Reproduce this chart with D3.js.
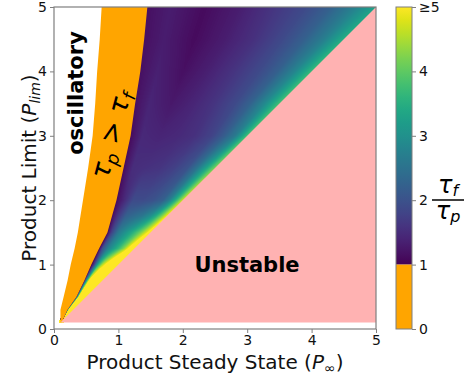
<!DOCTYPE html>
<html>
<head>
<meta charset="utf-8">
<script src="https://cdn.jsdelivr.net/npm/d3@7"></script>
<style>
  body { margin: 0; background: #fff; }
  svg { display: block; font-family: "DejaVu Sans", sans-serif; }
</style>
</head>
<body>
<script>
const rowLim   = [0.1, 0.3, 0.5, 0.75, 1, 1.25, 1.5, 1.75, 2, 2.5, 3, 3.5, 4, 4.5, 5]
// P_inf where the white (oscillatory) zone ends on each row
const oscEdge  = [0.1, 0.1, 0.15, 0.21, 0.26, 0.32, 0.37, 0.41, 0.45, 0.53, 0.6, 0.64, 0.67, 0.71, 0.74]
// P_inf where the orange (tau_p > tau_f) zone ends on each row
const slowEdge = [0.12, 0.21, 0.35, 0.47, 0.58, 0.7, 0.83, 0.9, 0.97, 1.08, 1.19, 1.26, 1.34, 1.4, 1.45]
// position across the coloured band: 0 = orange edge, 1 = diagonal
const tStops   = [0, 0.1, 0.25, 0.4, 0.55, 0.7, 0.8, 0.9, 1]
// tau_f / tau_p read along each row at tStops
const ratio = [
  [1.0, 4.0, 6.0, 6.0, 6.0, 6.0, 6.0, 6.0, 6.0],
  [1.0, 4.0, 6.0, 6.0, 6.0, 6.0, 6.0, 6.0, 6.0],
  [1.0, 3.5, 5.5, 6.0, 6.0, 6.0, 6.0, 6.0, 6.0],
  [1.0, 3.0, 5.0, 6.0, 6.0, 6.0, 6.0, 6.0, 6.0],
  [1.0, 1.7, 3.5, 4.5, 5.2, 6.0, 6.0, 6.0, 6.0],
  [1.0, 2.0, 2.7, 3.2, 3.7, 4.3, 4.9, 5.5, 6.0],
  [1.05, 1.8, 2.6, 3.0, 3.4, 3.9, 4.3, 4.8, 5.4],
  [1.1, 1.6, 2.2, 2.4, 2.6, 3.0, 3.5, 4.2, 5.0],
  [1.1, 1.4, 1.9, 1.9, 2.0, 2.2, 2.7, 3.6, 4.7],
  [1.1, 1.5, 1.55, 1.6, 1.75, 2.0, 2.5, 3.3, 4.2],
  [1.1, 1.45, 1.4, 1.45, 1.55, 1.8, 2.15, 2.65, 3.8],
  [1.15, 1.4, 1.25, 1.4, 1.6, 1.9, 2.25, 2.9, 3.8],
  [1.15, 1.35, 1.15, 1.35, 1.6, 1.9, 2.2, 2.8, 3.7],
  [1.15, 1.3, 1.1, 1.3, 1.55, 1.9, 2.2, 2.7, 3.5],
  [1.15, 1.3, 1.1, 1.3, 1.6, 1.9, 2.2, 2.7, 3.3]
]
const gridMin = 0.1, gridMax = 5
const axisTicks = [0, 1, 2, 3, 4, 5]
const cbarTicks = [0, 1, 2, 3, 4, 5]
const cbarLabels = ["0", "1", "2", "3", "4", "≥5"]

const orange = "#ffa500"
const pink = "#ffb2b2"
const spine = "#7f7f7f"

let dimensions = {
  width: 464,
  height: 376,
  margin: { top: 7, right: 88, bottom: 47, left: 54 },
}
dimensions.boundedWidth = dimensions.width - dimensions.margin.left - dimensions.margin.right
dimensions.boundedHeight = dimensions.height - dimensions.margin.top - dimensions.margin.bottom

const wrapper = d3.select("body").append("svg")
  .attr("width", dimensions.width)
  .attr("height", dimensions.height)

const xScale = d3.scaleLinear().domain([0, 5]).range([dimensions.margin.left, dimensions.margin.left + dimensions.boundedWidth])
const yScale = d3.scaleLinear().domain([0, 5]).range([dimensions.margin.top + dimensions.boundedHeight, dimensions.margin.top])
const color = d3.scaleSequential(d3.interpolateViridis).domain([1, 5]).clamp(true)

// lookups along P_lim and across the band
const rowAt = d3.scaleLinear().domain(rowLim).range(d3.range(rowLim.length)).clamp(true)
const slowAt = d3.scaleLinear().domain(rowLim).range(slowEdge).clamp(true)
const colAt = d3.scaleLinear().domain(tStops).range(d3.range(tStops.length)).clamp(true)

function ratioAt(p, t) {
  const r = rowAt(p), j = colAt(t)
  const i0 = Math.min(Math.floor(r), rowLim.length - 2), fr = r - i0
  const j0 = Math.min(Math.floor(j), tStops.length - 2), fj = j - j0
  const a = ratio[i0][j0] * (1 - fj) + ratio[i0][j0 + 1] * fj
  const b = ratio[i0 + 1][j0] * (1 - fj) + ratio[i0 + 1][j0 + 1] * fj
  return a * (1 - fr) + b * fr
}

// coloured band painted into a canvas, then placed in the svg
const cw = Math.round(xScale(5) - xScale(0)), ch = Math.round(yScale(0) - yScale(5))
const canvas = document.createElement("canvas")
canvas.width = cw
canvas.height = ch
const ctx = canvas.getContext("2d")
const img = ctx.createImageData(cw, ch)
const lut = d3.range(256).map(i => d3.rgb(color(1 + 4 * i / 255)))

for (let py = 0; py < ch; py++) {
  const pl = yScale.invert(yScale(5) + py + 0.5)
  if (pl < gridMin || pl > gridMax) continue
  const xs = slowAt(pl)
  for (let px = 0; px < cw; px++) {
    const pi = xScale.invert(xScale(0) + px + 0.5)
    if (pi < xs - 0.05 || pi > pl + 0.05) continue
    let t = pl - xs > 0 ? (pi - xs) / (pl - xs) : 1
    t = Math.max(0, Math.min(1, t))
    const v = Math.max(1, Math.min(5, ratioAt(pl, t)))
    const c = lut[Math.round((v - 1) / 4 * 255)]
    const k = (py * cw + px) * 4
    img.data[k] = c.r
    img.data[k + 1] = c.g
    img.data[k + 2] = c.b
    img.data[k + 3] = 255
  }
}
ctx.putImageData(img, 0, 0)

wrapper.append("image")
  .attr("href", canvas.toDataURL())
  .attr("x", xScale(0))
  .attr("y", yScale(5))
  .attr("width", cw)
  .attr("height", ch)
  .attr("preserveAspectRatio", "none")

// orange zone between the two edges
const rows = rowLim.map((p, i) => ({ p: p, osc: oscEdge[i], slow: slowEdge[i] }))
wrapper.append("path")
  .datum(rows)
  .attr("d", d3.area().y(d => yScale(d.p)).x0(d => xScale(d.osc)).x1(d => xScale(d.slow)))
  .attr("fill", orange)

// unstable zone below the diagonal
const unstable = [[gridMin, gridMin], [gridMax, gridMin], [gridMax, gridMax]]
wrapper.append("path")
  .attr("d", d3.line().x(d => xScale(d[0])).y(d => yScale(d[1]))(unstable) + "Z")
  .attr("fill", pink)

// frame
wrapper.append("rect")
  .attr("x", xScale(0)).attr("y", yScale(5))
  .attr("width", xScale(5) - xScale(0)).attr("height", yScale(0) - yScale(5))
  .attr("fill", "none").attr("stroke", spine).attr("stroke-width", 1.2)

const xAxis = d3.axisBottom(xScale).tickValues(axisTicks).tickSize(4).tickPadding(2).tickFormat(d3.format("d"))
const yAxis = d3.axisLeft(yScale).tickValues(axisTicks).tickSize(4).tickPadding(3).tickFormat(d3.format("d"))

const gx = wrapper.append("g").attr("transform", `translate(0,${yScale(0)})`).call(xAxis)
const gy = wrapper.append("g").attr("transform", `translate(${xScale(0)},0)`).call(yAxis)
for (const g of [gx, gy]) {
  g.select(".domain").remove()
  g.selectAll(".tick line").attr("stroke", spine).attr("stroke-width", 1)
  g.selectAll(".tick text").attr("font-size", 14).attr("font-family", "DejaVu Sans").attr("fill", "#111")
}

// axis labels
const xl = wrapper.append("text")
  .attr("x", (xScale(0) + xScale(5)) / 2).attr("y", 369)
  .attr("text-anchor", "middle").attr("font-size", 20).attr("fill", "#111")
xl.append("tspan").text("Product Steady State (")
xl.append("tspan").attr("font-style", "italic").text("P")
xl.append("tspan").attr("font-size", 14).attr("dy", 4).text("∞")
xl.append("tspan").attr("dy", -4).text(")")

const yl = wrapper.append("text")
  .attr("transform", `translate(36,${(yScale(0) + yScale(5)) / 2}) rotate(-90)`)
  .attr("text-anchor", "middle").attr("font-size", 20).attr("fill", "#111")
yl.append("tspan").text("Product Limit (")
yl.append("tspan").attr("font-style", "italic").text("P")
yl.append("tspan").attr("font-style", "italic").attr("font-size", 14).attr("dy", 4).text("lim")
yl.append("tspan").attr("dy", -4).text(")")

// region labels
wrapper.append("text")
  .attr("transform", "translate(83,93) rotate(-90)")
  .attr("text-anchor", "middle").attr("font-size", 21).attr("font-weight", "bold")
  .text("oscillatory")

wrapper.append("text")
  .attr("x", 247).attr("y", 272)
  .attr("text-anchor", "middle").attr("font-size", 21).attr("font-weight", "bold")
  .text("Unstable")

const tt = wrapper.append("text")
  .attr("transform", "translate(112,135) rotate(-75)")
  .attr("y", 8)
  .attr("text-anchor", "middle").attr("font-size", 27).attr("font-style", "italic")
tt.append("tspan").text("τ")
tt.append("tspan").attr("font-size", 18).attr("dy", 5).text("p")
tt.append("tspan").attr("dy", -5).attr("font-style", "normal").text(" > ")
tt.append("tspan").text("τ")
tt.append("tspan").attr("font-size", 18).attr("dy", 5).text("f")

// colour bar
const cbX = 396, cbW = 16
const cbScale = d3.scaleLinear().domain([0, 5]).range([yScale(0), yScale(5)])
const defs = wrapper.append("defs")
const grad = defs.append("linearGradient").attr("id", "viridis")
  .attr("x1", 0).attr("y1", 1).attr("x2", 0).attr("y2", 0)
grad.selectAll("stop").data(d3.range(0, 1.0001, 0.05)).join("stop")
  .attr("offset", d => d)
  .attr("stop-color", d => color(1 + 4 * d))

wrapper.append("rect")
  .attr("x", cbX).attr("width", cbW)
  .attr("y", cbScale(5)).attr("height", cbScale(1) - cbScale(5))
  .attr("fill", "url(#viridis)")
wrapper.append("rect")
  .attr("x", cbX).attr("width", cbW)
  .attr("y", cbScale(1)).attr("height", cbScale(0) - cbScale(1))
  .attr("fill", orange)
wrapper.append("rect")
  .attr("x", cbX).attr("width", cbW)
  .attr("y", cbScale(5)).attr("height", cbScale(0) - cbScale(5))
  .attr("fill", "none").attr("stroke", spine).attr("stroke-width", 1)

const cbAxis = d3.axisRight(cbScale).tickValues(cbarTicks).tickSize(4).tickPadding(3)
  .tickFormat((d, i) => cbarLabels[i])
const gc = wrapper.append("g").attr("transform", `translate(${cbX + cbW},0)`).call(cbAxis)
gc.select(".domain").remove()
gc.selectAll(".tick line").attr("stroke", spine)
gc.selectAll(".tick text").attr("font-size", 14).attr("font-family", "DejaVu Sans").attr("fill", "#111")

// colour bar label: tau_f / tau_p
const num = wrapper.append("text").attr("x", 448).attr("y", 193)
  .attr("text-anchor", "middle").attr("font-size", 24).attr("font-style", "italic")
num.append("tspan").text("τ")
num.append("tspan").attr("font-size", 16).attr("dy", 3).text("f")
wrapper.append("line")
  .attr("x1", 432).attr("x2", 470).attr("y1", 200).attr("y2", 200)
  .attr("stroke", "#000").attr("stroke-width", 1.5)
const den = wrapper.append("text").attr("x", 448).attr("y", 219)
  .attr("text-anchor", "middle").attr("font-size", 24).attr("font-style", "italic")
den.append("tspan").text("τ")
den.append("tspan").attr("font-size", 16).attr("dy", 3).text("p")
</script>
</body>
</html>
